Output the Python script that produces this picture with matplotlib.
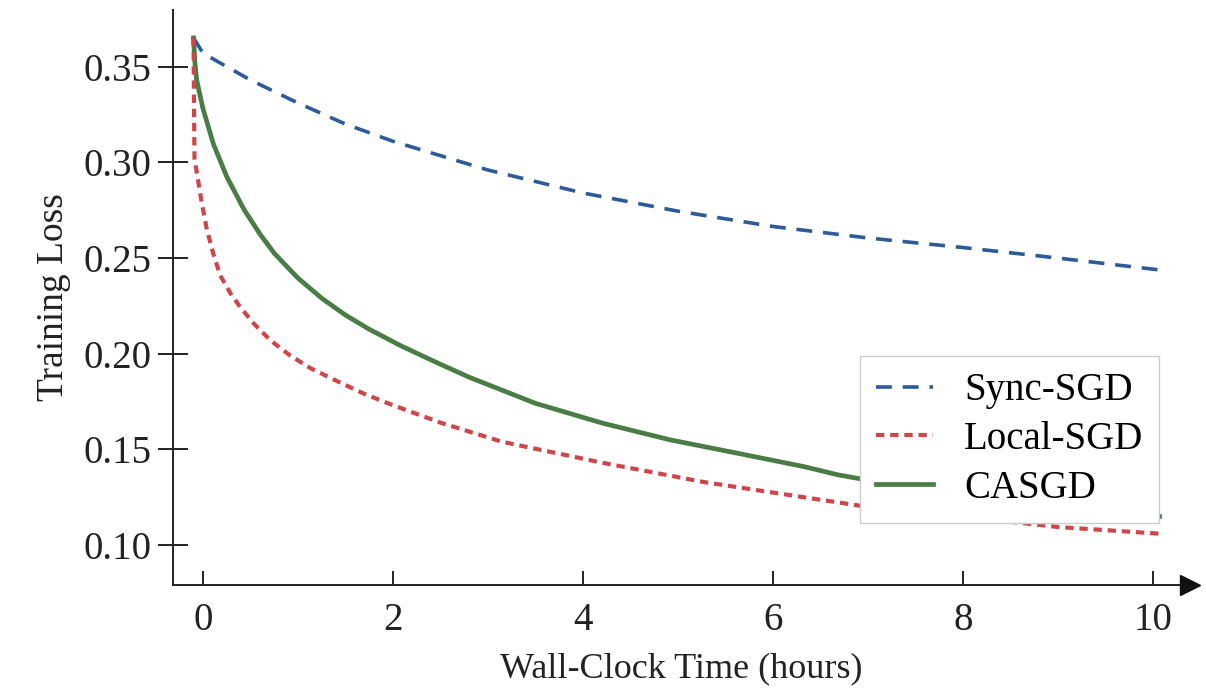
import matplotlib
matplotlib.use("Agg")
import matplotlib.pyplot as plt

# ---- data ----
sync_x = [-0.10, 0.0, 0.5, 1.0, 1.5, 2.0, 3.0, 4.0, 5.0, 6.0, 7.0, 8.0, 9.0, 10.07]
sync_y = [0.365, 0.357, 0.343, 0.331, 0.320, 0.311, 0.296, 0.284, 0.2745, 0.2665,
          0.2605, 0.2555, 0.2500, 0.2438]

local_x = [-0.10, -0.095, -0.09, -0.05, -0.014, 0.04, 0.11, 0.18, 0.29, 0.39, 0.53,
           0.71, 0.92, 1.13, 1.42, 1.70, 1.98, 2.09, 2.5, 3.15, 4.21, 5.27, 6.33,
           7.0, 8.0, 9.0, 10.07]
local_y = [0.365, 0.330, 0.302, 0.290, 0.279, 0.265, 0.252, 0.241, 0.2315, 0.2245,
           0.216, 0.207, 0.199, 0.1925, 0.1855, 0.1790, 0.1735, 0.1715, 0.164, 0.154,
           0.143, 0.133, 0.125, 0.120, 0.115, 0.1095, 0.106]

casgd_x = [-0.10, -0.085, -0.067, 0.0, 0.11, 0.25, 0.43, 0.60, 0.75, 1.0, 1.25, 1.5,
           1.75, 2.09, 2.5, 2.8, 3.5, 4.21, 4.92, 5.63, 6.33, 6.69, 7.04, 8.0, 9.0,
           10.07]
casgd_y = [0.365, 0.352, 0.343, 0.328, 0.3095, 0.2925, 0.2755, 0.2625, 0.2525, 0.2395,
           0.2290, 0.2202, 0.2128, 0.2040, 0.1945, 0.1878, 0.1741, 0.1637, 0.1550,
           0.1480, 0.1410, 0.1367, 0.1336, 0.127, 0.121, 0.115]

x_ticks = [0, 2, 4, 6, 8, 10]
y_ticks = [0.10, 0.15, 0.20, 0.25, 0.30, 0.35]
labels = ["Sync-SGD", "Local-SGD", "CASGD"]

plt.rcParams['font.family'] = ['Liberation Serif', 'DejaVu Serif']

fig = plt.figure(figsize=(12.06, 6.88), dpi=100)
ax = fig.add_axes([173 / 1206, 103 / 688, (1190 - 173) / 1206, (678 - 103) / 688])

common = dict(solid_joinstyle='round', dash_joinstyle='round')
ax.plot(sync_x, sync_y, color='#2d5a99', lw=2.6, linestyle=(0, (4.4, 3.0)),
        label=labels[0], zorder=3, **common)
ax.plot(local_x, local_y, color='#d0454a', lw=3.0, linestyle=(0, (2.0, 1.4)),
        label=labels[1], zorder=3, **common)
ax.plot(casgd_x, casgd_y, color='#4a7d45', lw=3.4, linestyle='-',
        label=labels[2], zorder=2, **common)

ax.set_xlim(-0.316, 10.39)
ax.set_ylim(0.0792, 0.3796)
ax.set_xticks(x_ticks)
ax.set_xticklabels([str(v) for v in x_ticks])
ax.set_yticks(y_ticks)
ax.set_yticklabels([f"{v:.2f}" for v in y_ticks])

for s in ['top', 'right']:
    ax.spines[s].set_visible(False)
for s in ['left', 'bottom']:
    ax.spines[s].set_linewidth(1.4)
    ax.spines[s].set_color('#222222')

ax.tick_params(axis='y', direction='inout', length=21, width=1.4, pad=5,
               labelsize=28, colors='#222222')
ax.tick_params(axis='x', direction='in', length=10, width=1.4, pad=12,
               labelsize=28, colors='#222222')

# arrow head at the end of the x axis
ax.plot(1, 0, marker='>', markersize=15, color='#111111', transform=ax.transAxes,
        clip_on=False, zorder=5)

ax.set_xlabel("Wall-Clock Time (hours)", fontsize=26, color='#222222', labelpad=10)
ax.set_ylabel("Training Loss", fontsize=27, color='#222222', labelpad=9)

leg = ax.legend(loc='lower right', bbox_to_anchor=(0.970, 0.108), borderaxespad=0,
                fontsize=28, frameon=True, fancybox=False, framealpha=1.0,
                edgecolor='#cccccc', handlelength=1.45, handletextpad=0.8,
                labelspacing=0.3, borderpad=0.42)
leg.get_frame().set_linewidth(1.0)

fig.savefig("out.png", dpi=100, facecolor='white')
